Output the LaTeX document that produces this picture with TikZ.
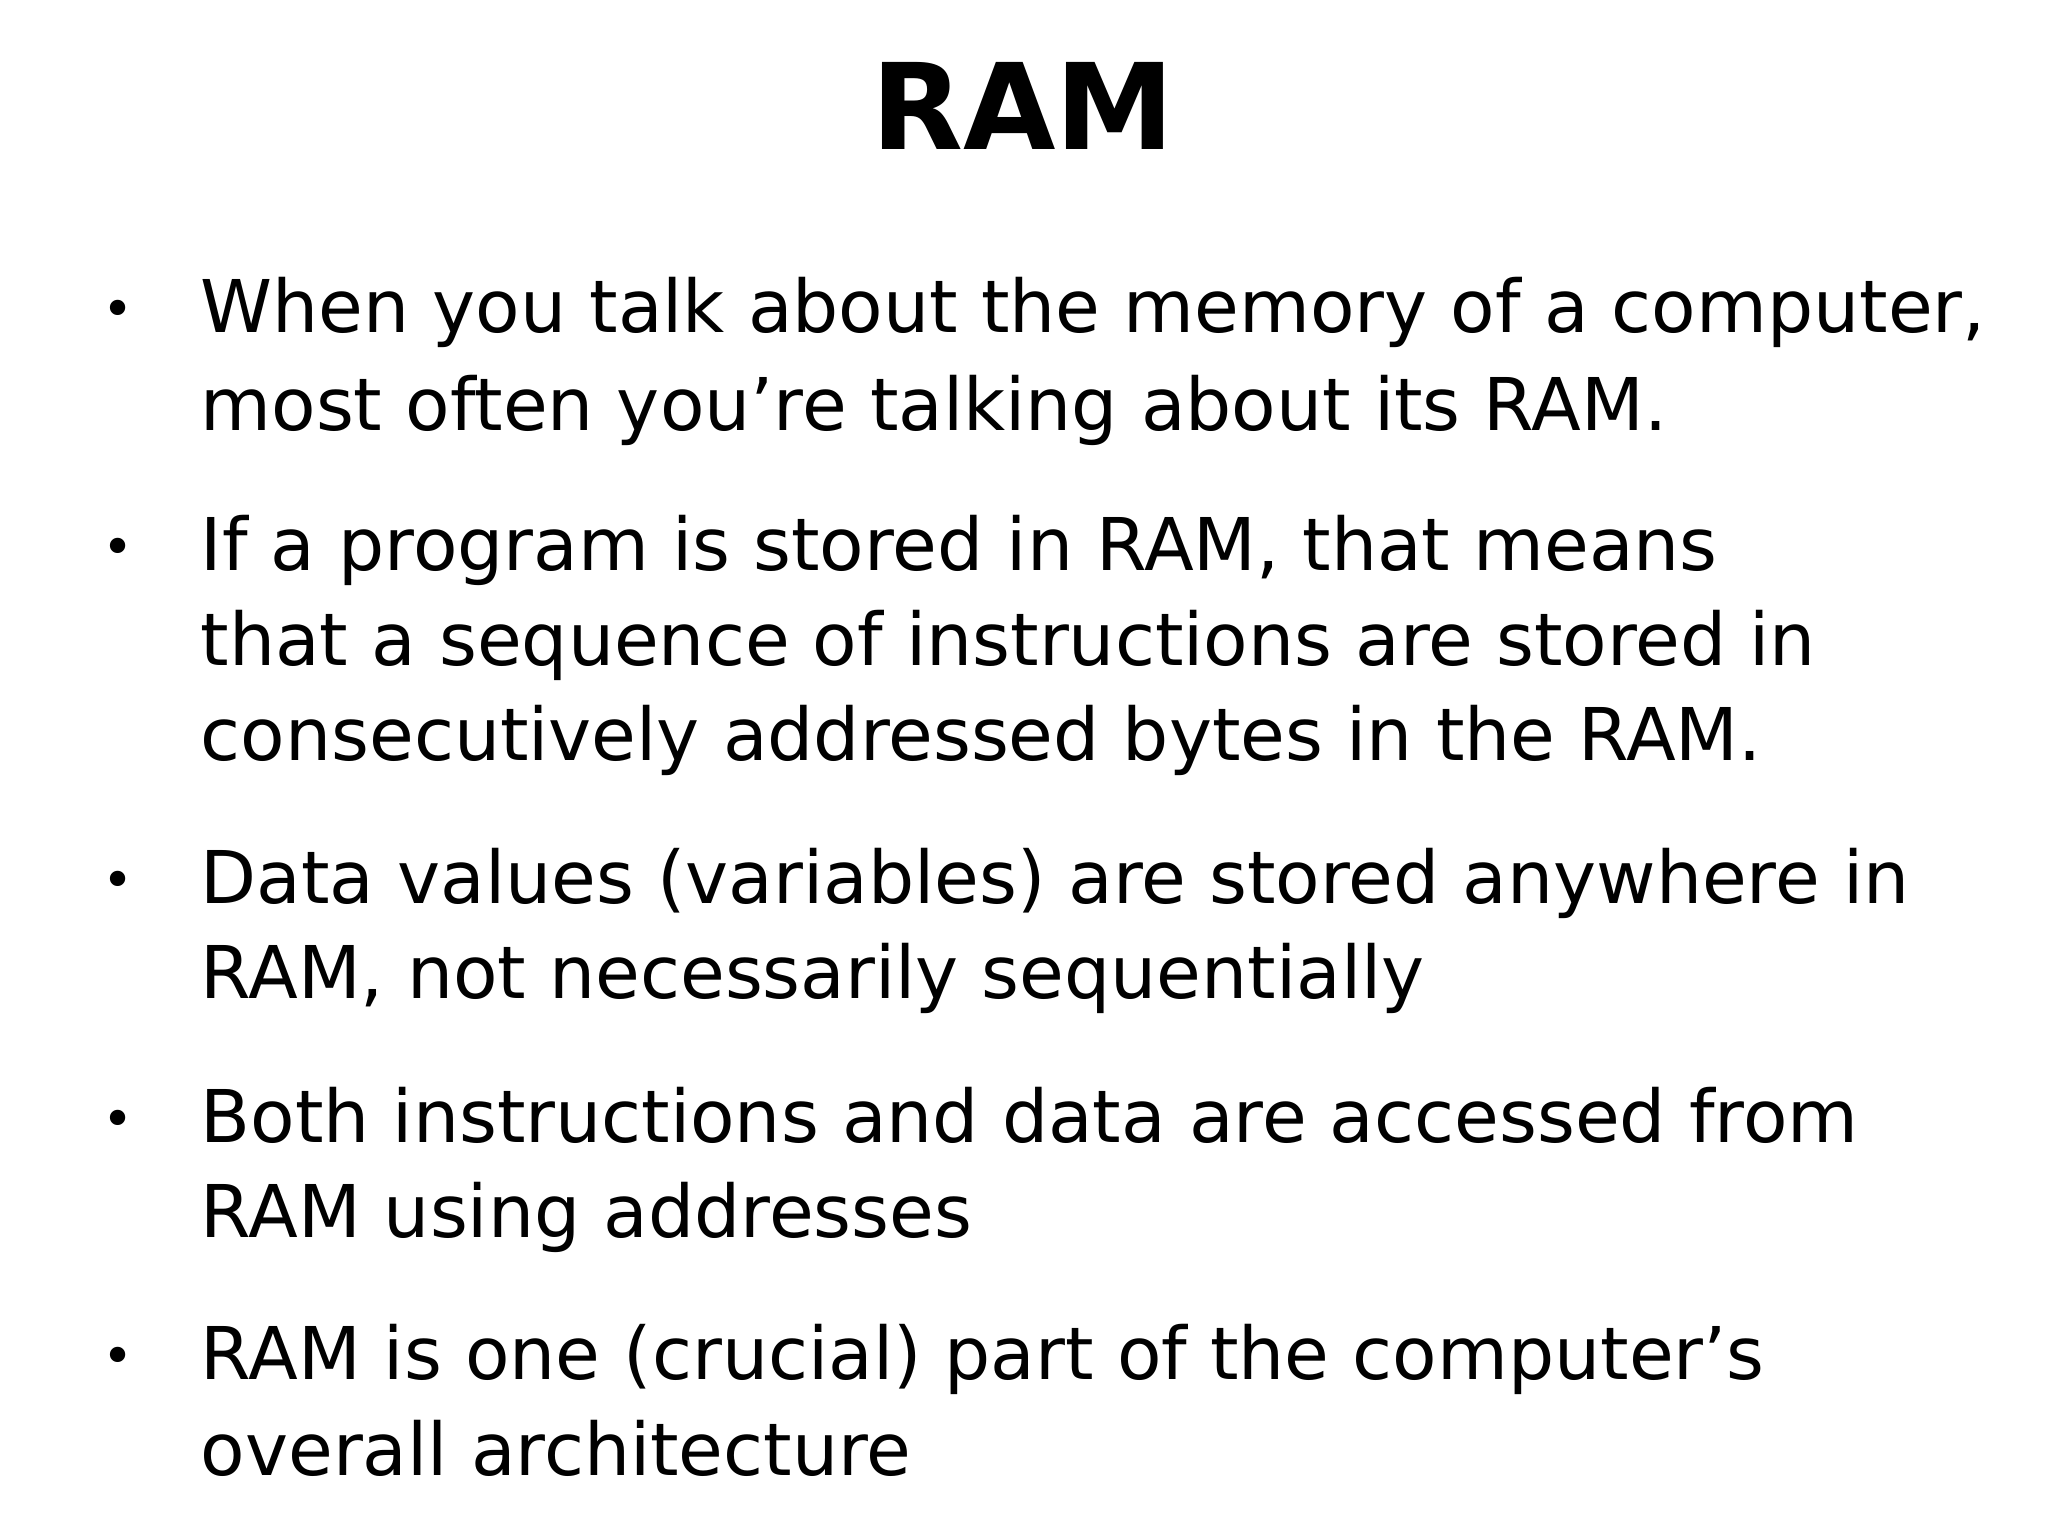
\documentclass[tikz,border=0pt]{standalone}
\usepackage{fontspec}
\setmainfont{DejaVu Sans}
\begin{document}
\begin{tikzpicture}[x=1cm,y=1cm,
  line/.style={anchor=base west,inner sep=0pt,font=\fontsize{20.7}{24}\selectfont},
  bul/.style={anchor=base,inner sep=0pt,font=\fontsize{15}{18}\selectfont}]
\useasboundingbox (0,0) rectangle (20.48,15.36);
\node[inner sep=0pt,anchor=base,font=\fontsize{34}{40}\selectfont\bfseries] (title) at (10.23,13.86) {RAM};
\foreach \y [count=\i] in {12.03,9.65,6.32,3.93,1.56}
  \node[bul] (b\i) at (1.18,\y+0.05) {•};
\node[line] (l1) at (2.0,12.03) {When you talk about the memory of a computer,};
\node[line] (l2) at (2.0,11.05) {most often you’re talking about its RAM.};
\node[line] (l3) at (2.0,9.65) {If a program is stored in RAM, that means};
\node[line] (l4) at (2.0,8.70) {that a sequence of instructions are stored in};
\node[line] (l5) at (2.0,7.75) {consecutively addressed bytes in the RAM.};
\node[line] (l6) at (2.0,6.32) {Data values (variables) are stored anywhere in};
\node[line] (l7) at (2.0,5.37) {RAM, not necessarily sequentially};
\node[line] (l8) at (2.0,3.93) {Both instructions and data are accessed from};
\node[line] (l9) at (2.0,2.98) {RAM using addresses};
\node[line] (l10) at (2.0,1.56) {RAM is one (crucial) part of the computer’s};
\node[line] (l11) at (2.0,0.60) {overall architecture};
\end{tikzpicture}
\end{document}
